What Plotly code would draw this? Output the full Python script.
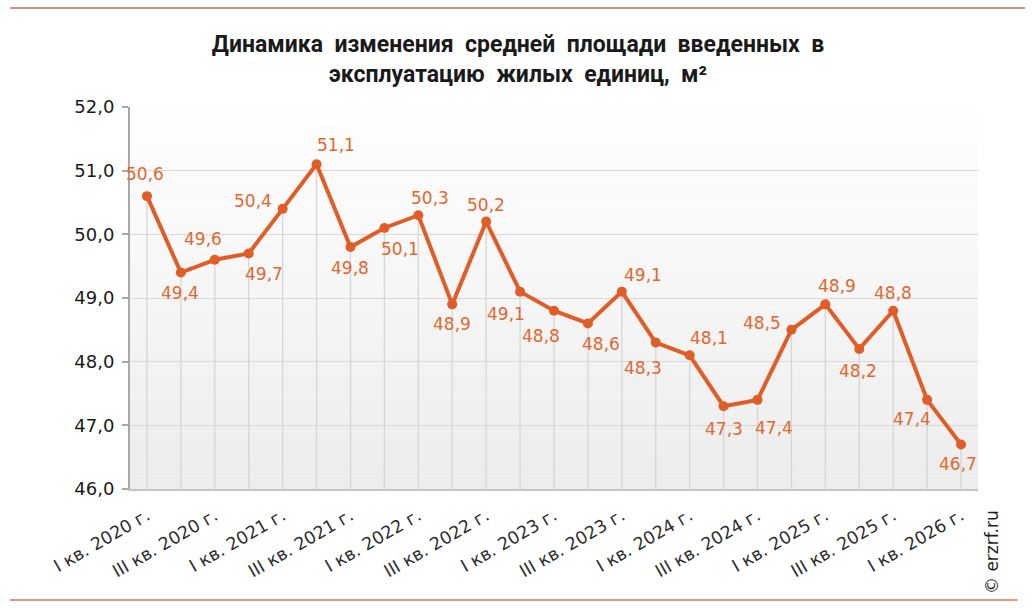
import plotly.graph_objects as go

quarters = [
    "I кв. 2020 г.", "II кв. 2020 г.", "III кв. 2020 г.", "IV кв. 2020 г.",
    "I кв. 2021 г.", "II кв. 2021 г.", "III кв. 2021 г.", "IV кв. 2021 г.",
    "I кв. 2022 г.", "II кв. 2022 г.", "III кв. 2022 г.", "IV кв. 2022 г.",
    "I кв. 2023 г.", "II кв. 2023 г.", "III кв. 2023 г.", "IV кв. 2023 г.",
    "I кв. 2024 г.", "II кв. 2024 г.", "III кв. 2024 г.", "IV кв. 2024 г.",
    "I кв. 2025 г.", "II кв. 2025 г.", "III кв. 2025 г.", "IV кв. 2025 г.",
    "I кв. 2026 г.",
]
values = [50.6, 49.4, 49.6, 49.7, 50.4, 51.1, 49.8, 50.1, 50.3, 48.9, 50.2, 49.1,
          48.8, 48.6, 49.1, 48.3, 48.1, 47.3, 47.4, 48.5, 48.9, 48.2, 48.8, 47.4, 46.7]
tick_labels = quarters[::2]
y_min, y_max = 46, 52

# label offsets in pixels (x right, y down) — styling only
label_offsets = [(-2, -22), (-1, 20), (-12, -21), (15, 21), (-30, -8), (19, -19),
                 (0, 21), (16, 21), (12, -17), (0, 20), (0, -17), (-14, 22),
                 (-13, 25), (13, 21), (21, -17), (-13, 25), (19, -17), (0, 23),
                 (16, 28), (-29, -7), (12, -18), (-1, 22), (0, -18), (-15, 19),
                 (-3, 20)]

ORANGE = "#e05d28"
LABEL_ORANGE = "#e2672f"
NUM_FONT = "DejaVu Sans"

fig = go.Figure()

# drop lines from each point to the axis base
dx, dy = [], []
for q, v in zip(quarters, values):
    dx += [q, q, None]
    dy += [y_min, v, None]
fig.add_trace(go.Scatter(x=dx, y=dy, mode="lines", line=dict(color="#d6d6d6", width=1.3),
                         hoverinfo="skip", showlegend=False))

fig.add_trace(go.Scatter(
    x=quarters, y=values, mode="lines+markers",
    line=dict(color=ORANGE, width=4),
    marker=dict(color=ORANGE, size=10),
    showlegend=False, cliponaxis=False,
))

annotations = []
for q, v, (ox, oy) in zip(quarters, values, label_offsets):
    annotations.append(dict(
        x=q, y=v, xref="x", yref="y", text=f"{v:.1f}".replace(".", ","),
        showarrow=False, xanchor="center", yanchor="middle",
        xshift=ox, yshift=-oy,
        font=dict(family=NUM_FONT, size=17, color=LABEL_ORANGE),
    ))
annotations.append(dict(text="© erzrf.ru", textangle=-90, xref="paper", yref="paper",
                        x=1.0165, y=-0.165, xanchor="center", yanchor="middle",
                        showarrow=False,
                        font=dict(family=NUM_FONT, size=17, color="#1f1f1f")))

# gradient background strips
shapes = []
n = 40
for i in range(n):
    t = i / n
    c = int(237 + (255 - 237) * t)
    shapes.append(dict(type="rect", xref="paper", yref="paper", x0=0, x1=1,
                       y0=i / n, y1=(i + 1) / n, fillcolor=f"rgb({c},{c},{c})",
                       line=dict(width=0), layer="below"))
# top and bottom orange rules
shapes.append(dict(type="line", xref="paper", yref="paper", x0=-0.1415, x1=1.0554,
                   y0=1.259, y1=1.259, line=dict(color="#d49479", width=2)))
shapes.append(dict(type="line", xref="paper", yref="paper", x0=-0.1415, x1=1.047,
                   y0=-0.2906, y1=-0.2906, line=dict(color="#e59a7e", width=2)))

fig.update_layout(
    width=1036, height=610,
    margin=dict(l=130, r=58, t=107, b=121),
    paper_bgcolor="white", plot_bgcolor="white",
    separators=", ",
    shapes=shapes,
    annotations=annotations,
    title=dict(
        text="Динамика  изменения  средней  площади  введенных  в<br>эксплуатацию  жилых  единиц,  м²",
        x=0.5, xref="container", xanchor="center", y=0.915, yref="container", yanchor="top",
        font=dict(family="Roboto", size=23, color="#1a1a1a", weight="bold"),
    ),
    xaxis=dict(
        type="category", range=[-0.5, len(quarters) - 0.5],
        tickmode="array", tickvals=tick_labels, ticktext=tick_labels,
        tickangle=-30, tickfont=dict(family=NUM_FONT, size=17.5, color="#2e2e2e"),
        showgrid=False, showline=True, linecolor="#c4c4c4", linewidth=2,
        ticks="", zeroline=False, ticklabelstandoff=8,
    ),
    yaxis=dict(
        range=[y_min, y_max], dtick=1, tickformat=".1f",
        tickfont=dict(family=NUM_FONT, size=18, color="#1a1a1a"),
        showgrid=True, gridcolor="#d8d8d8", gridwidth=1,
        showline=True, linecolor="#a8a8a8", linewidth=2,
        ticks="outside", ticklen=6, tickcolor="#a8a8a8", tickwidth=1.5,
        ticklabelstandoff=4, zeroline=False,
    ),
)

fig.write_html("out.html")
